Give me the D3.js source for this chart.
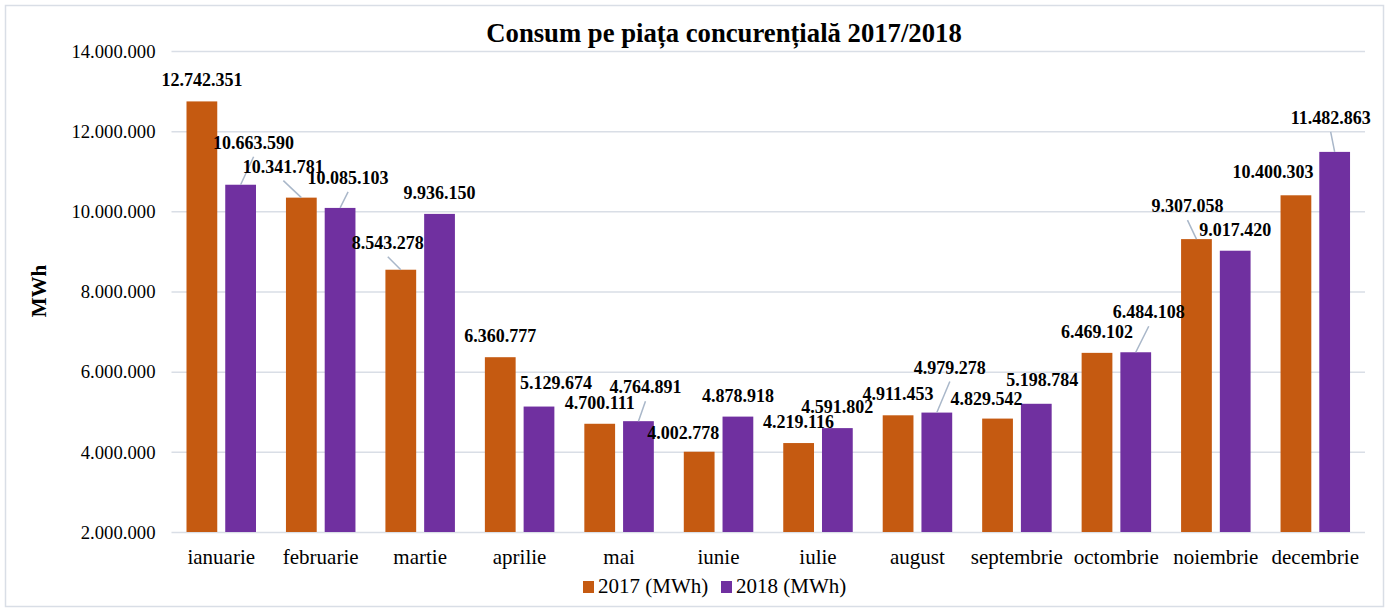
<!DOCTYPE html>
<html>
<head>
<meta charset="utf-8">
<script src="https://cdn.jsdelivr.net/npm/d3@7"></script>
<style>
  body { margin: 0; background: #fff; }
  svg { display: block; font-family: "Liberation Serif", "Times New Roman", serif; }
</style>
</head>
<body>
<svg id="chart"></svg>
<script>
const months = ['ianuarie', 'februarie', 'martie', 'aprilie', 'mai', 'iunie', 'iulie', 'august', 'septembrie', 'octombrie', 'noiembrie', 'decembrie'];
const values2017 = [12742351, 10341781, 8543278, 6360777, 4700111, 4002778, 4219116, 4911453, 4829542, 6469102, 9307058, 10400303];
const values2018 = [10663590, 10085103, 9936150, 5129674, 4764891, 4878918, 4591802, 4979278, 5198784, 6484108, 9017420, 11482863];
const seriesNames = ['2017 (MWh)', '2018 (MWh)'];
const yTicks = [2000000, 4000000, 6000000, 8000000, 10000000, 12000000, 14000000];

// label nudges (dx, dy, leader line) - layout only, not data
const labelShift2017 = [[0,0,0],[-18,-10,1],[-13,-6,1],[0,0,0],[0,0,0],[-16,2,0],[0,0,0],[0,0,0],[-11,1,0],[0,0,0],[-9,-12,1],[-23,-2,0]];
const labelShift2018 = [[13,-21,1],[8,-9,1],[0,0,0],[17,-3,0],[7,-13,1],[0,0,0],[0,0,0],[13,-24,1],[6,-3,0],[13,-19,1],[0,0,0],[-4,-13,1]];

const colors = ['#c55a11', '#7030a0'];
const W = 1390, H = 611;
const plot = { left: 171.5, right: 1365, top: 51, bottom: 532 };

const svg = d3.select('#chart').attr('width', W).attr('height', H);

svg.append('rect')
  .attr('x', 5.5).attr('y', 5.5)
  .attr('width', 1378).attr('height', 601)
  .attr('fill', '#fff')
  .attr('stroke', '#d9dee6')
  .attr('stroke-width', 1.5);

const loc = d3.formatLocale({ decimal: ',', thousands: '.', grouping: [3], currency: ['', ''] });
const fmt = loc.format(',d');

const x0 = d3.scaleBand().domain(months).range([plot.left, plot.right]);
const x1 = d3.scaleBand().domain([0, 1]).range([15, 84.5]).paddingInner(0.206);
const y = d3.scaleLinear().domain([2000000, 14000000]).range([plot.bottom, plot.top]);

// gridlines + y labels
const yAxis = svg.append('g')
  .attr('transform', `translate(${plot.left},0)`)
  .call(d3.axisLeft(y).tickValues(yTicks).tickSize(-(plot.right - plot.left)).tickPadding(16).tickFormat(fmt));
yAxis.select('.domain').remove();
yAxis.selectAll('.tick line').attr('stroke', '#d9dee6').attr('stroke-width', 1.5);
yAxis.selectAll('.tick text')
  .attr('font-size', 18.7).attr('fill', '#000')
  .attr('font-family', '"Liberation Serif", "Times New Roman", serif')
  .attr('dy', '0.33em');

// one point per bar
const points = [];
months.forEach((m, i) => {
  [values2017[i], values2018[i]].forEach((v, s) => {
    const sh = s === 0 ? labelShift2017[i] : labelShift2018[i];
    points.push({ month: m, s, v, sh });
  });
});
const cx = d => x0(d.month) + x1(d.s) + x1.bandwidth() / 2;

// bars
svg.append('g').selectAll('rect')
  .data(points)
  .enter().append('rect')
  .attr('x', d => x0(d.month) + x1(d.s))
  .attr('width', x1.bandwidth())
  .attr('y', d => y(d.v))
  .attr('height', d => y(2000000) - y(d.v))
  .attr('fill', d => colors[d.s]);

// leader lines
svg.append('g').selectAll('line')
  .data(points.filter(d => d.sh[2]))
  .enter().append('line')
  .attr('x1', d => cx(d) + d.sh[0])
  .attr('y1', d => y(d.v) - 21 + d.sh[1] + 14)
  .attr('x2', d => cx(d))
  .attr('y2', d => y(d.v))
  .attr('stroke', '#a9b7c9')
  .attr('stroke-width', 1.5);

// data labels
svg.append('g').selectAll('text')
  .data(points)
  .enter().append('text')
  .attr('x', d => cx(d) + d.sh[0])
  .attr('y', d => y(d.v) - 21 + d.sh[1] + 6)
  .attr('text-anchor', 'middle')
  .attr('font-size', 18)
  .attr('font-weight', 'bold')
  .text(d => fmt(d.v));

// x labels
svg.append('g').selectAll('text')
  .data(months)
  .enter().append('text')
  .attr('x', d => x0(d) + x0.bandwidth() / 2)
  .attr('y', 564)
  .attr('text-anchor', 'middle')
  .attr('font-size', 21)
  .text(d => d);

// title
svg.append('text')
  .attr('x', 724).attr('y', 42)
  .attr('text-anchor', 'middle')
  .attr('font-size', 26.7)
  .attr('font-weight', 'bold')
  .text('Consum pe piața concurențială 2017/2018');

// y axis title
svg.append('text')
  .attr('transform', 'translate(46,291) rotate(-90)')
  .attr('text-anchor', 'middle')
  .attr('font-size', 21)
  .attr('font-weight', 'bold')
  .text('MWh');

// legend
const legend = svg.append('g');
const legendX = [583, 721];
seriesNames.forEach((name, i) => {
  legend.append('rect')
    .attr('x', legendX[i]).attr('y', 581)
    .attr('width', 11).attr('height', 12)
    .attr('fill', colors[i]);
  legend.append('text')
    .attr('x', legendX[i] + 15).attr('y', 593)
    .attr('font-size', 21)
    .text(name);
});
</script>
</body>
</html>
